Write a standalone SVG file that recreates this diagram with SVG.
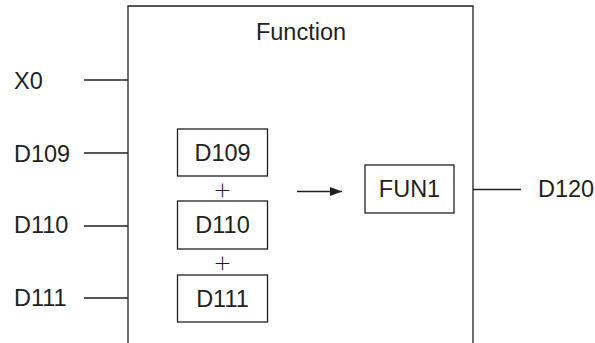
<svg xmlns="http://www.w3.org/2000/svg" width="595" height="343" viewBox="0 0 595 343">
<style>
.t{font-family:"Liberation Sans",Arial,Helvetica,sans-serif;font-size:23.5px;fill:#231f20}
.m{text-anchor:middle}
.p{font-family:"DejaVu Sans","Liberation Sans",sans-serif;font-size:22px;font-weight:200;fill:#231f20;text-anchor:middle}
.b{fill:#fff;stroke:#231f20;stroke-width:1.3}
.l{stroke:#231f20;stroke-width:1.3;fill:none}
</style>
<defs>
<marker id="ah" markerWidth="12" markerHeight="10" refX="12" refY="5" orient="auto" markerUnits="userSpaceOnUse">
<path d="M0,0.5 L12,5 L0,9.5 Z" fill="#231f20"/>
</marker>
</defs>
<rect width="595" height="343" fill="#fff"/>
<g id="function-block">
<path class="l" d="M128,343 V6 H473 V343"/>
<text class="t m" x="301" y="40">Function</text>
</g>
<g id="in-x0"><text class="t" x="14" y="89">X0</text></g>
<g id="in-d109"><text class="t" x="14" y="162">D109</text></g>
<g id="in-d110"><text class="t" x="14" y="233">D110</text></g>
<g id="in-d111"><text class="t" x="14" y="306">D111</text></g>
<g id="out-d120"><text class="t" x="538" y="197">D120</text></g>
<g id="box-d109"><rect class="b" x="177.5" y="129" width="90" height="47"/><text class="t m" x="222.5" y="161">D109</text></g>
<g id="plus1"><text class="p" x="222.5" y="196.5">+</text></g>
<g id="box-d110"><rect class="b" x="177.5" y="201" width="90" height="48"/><text class="t m" x="222.5" y="233">D110</text></g>
<g id="plus2"><text class="p" x="222.5" y="270">+</text></g>
<g id="box-d111"><rect class="b" x="177.5" y="275" width="90" height="47"/><text class="t m" x="222.5" y="307">D111</text></g>
<g id="box-fun1"><rect class="b" x="365" y="165" width="89" height="48"/><text class="t m" x="409.5" y="197">FUN1</text></g>
<g id="connectors">
<line class="l" x1="84" y1="80" x2="128" y2="80"/>
<line class="l" x1="84" y1="153" x2="128" y2="153"/>
<line class="l" x1="84" y1="226" x2="128" y2="226"/>
<line class="l" x1="84" y1="298" x2="128" y2="298"/>
<line class="l" x1="473" y1="189.5" x2="521" y2="189.5"/>
<line class="l" x1="297" y1="191.5" x2="342" y2="191.5" marker-end="url(#ah)"/>
</g>
</svg>
